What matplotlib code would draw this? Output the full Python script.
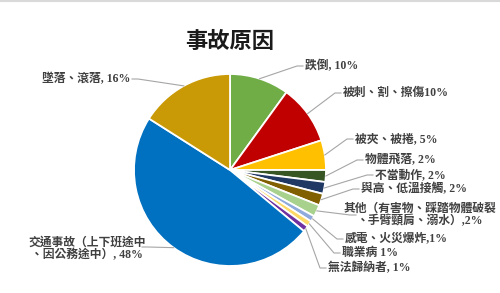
"""
Pie chart of accident causes (事故原因)
"""

import matplotlib
matplotlib.use('Agg')
from matplotlib import pyplot as plt
from matplotlib.lines import Line2D
import numpy as np

W, H = 500, 293

causes = ['跌倒', '被刺、割、擦傷', '被夾、被捲', '物體飛落', '不當動作',
          '與高、低溫接觸', '其他（有害物、踩踏物體破裂\n、手臂頸肩、溺水）',
          '感電、火災爆炸', '職業病', '無法歸納者',
          '交通事故（上下班途中\n、因公務途中）', '墜落、滾落']
shares = [10, 10, 5, 2, 2, 2, 2, 1, 1, 1, 48, 16]
label_text = ['跌倒, 10%', '被刺、割、擦傷10%', '被夾、被捲, 5%', '物體飛落, 2%',
              '不當動作, 2%', '與高、低溫接觸, 2%',
              '其他（有害物、踩踏物體破裂\n、手臂頸肩、溺水）,2%',
              '感電、火災爆炸,1%', '職業病 1%', '無法歸納者, 1%',
              '交通事故（上下班途中\n、因公務途中）, 48%', '墜落、滾落, 16%']
colors = ['#70AD47', '#C00000', '#FFC000', '#375623', '#1F3864', '#806000',
          '#A9D18E', '#8FAADC', '#FFD966', '#7030A0', '#0070C0', '#C99A06']

# label anchor in pixels (x, y, ha)
label_pos = [(305, 66, 'left'), (343, 93, 'left'), (355, 139, 'left'),
             (365, 160, 'left'), (375, 175, 'left'), (361, 189, 'left'),
             (420, 215, 'center'), (345, 239, 'left'), (342, 253, 'left'),
             (328, 268, 'left'), (87, 249, 'center'), (130, 79, 'right')]
# where the leader line meets the label (pixels)
line_end = [(303, 66), (341, 93), (353, 139), (363, 160), (373, 175), (359, 189),
            (356, 215), (343, 239), (340, 253), (326, 268), (142, 247), (132, 79)]

CX, CY, R = 230, 170, 96
FONT = ['Liberation Serif', 'Noto Sans CJK TC']


def to_data(px, py):
    return (px - CX) / R, (CY - py) / R


def main():
    fig = plt.figure(figsize=(W / 100, H / 100), dpi=100)
    ax = fig.add_axes([(CX - R) / W, (H - CY - R) / H, 2 * R / W, 2 * R / H])
    wedges, _ = ax.pie(shares, colors=colors, startangle=90, counterclock=False,
                       radius=1.0, wedgeprops=dict(edgecolor='white', linewidth=1.3))
    ax.set_xlim(-1, 1)
    ax.set_ylim(-1, 1)
    ax.set_aspect('equal')
    ax.axis('off')

    for w, txt, (lx, ly, ha), (ex, ey) in zip(wedges, label_text, label_pos, line_end):
        mid = np.deg2rad((w.theta1 + w.theta2) / 2)
        sx, sy = np.cos(mid), np.sin(mid)
        tx, ty = to_data(lx, ly)
        ex_d, ey_d = to_data(ex, ey)
        # short horizontal stub next to the label
        if ex < CX:
            elbow = (ex_d + 6 / R, ey_d)
        else:
            elbow = (ex_d - 6 / R, ey_d)
        ax.plot([sx, elbow[0], ex_d], [sy, elbow[1], ey_d], color='#a6a6a6',
                lw=0.8, clip_on=False)
        ax.text(tx, ty, txt, ha=ha, va='center', fontsize=8.5, color='#404040',
                family=FONT, fontweight='bold', multialignment='center',
                linespacing=1.0, clip_on=False)

    fig.text(230 / W, 1 - 42 / H, '事故原因', ha='center', va='center', fontsize=16,
             fontweight='bold', color='#1a1a1a', family=['Noto Sans CJK TC'])
    fig.add_artist(Line2D([0, 1], [1 - 1 / H, 1 - 1 / H], color='#d9d9d9', lw=1.5,
                          transform=fig.transFigure))

    fig.savefig('out.png', dpi=100, facecolor='white')


if __name__ == '__main__':
    main()
